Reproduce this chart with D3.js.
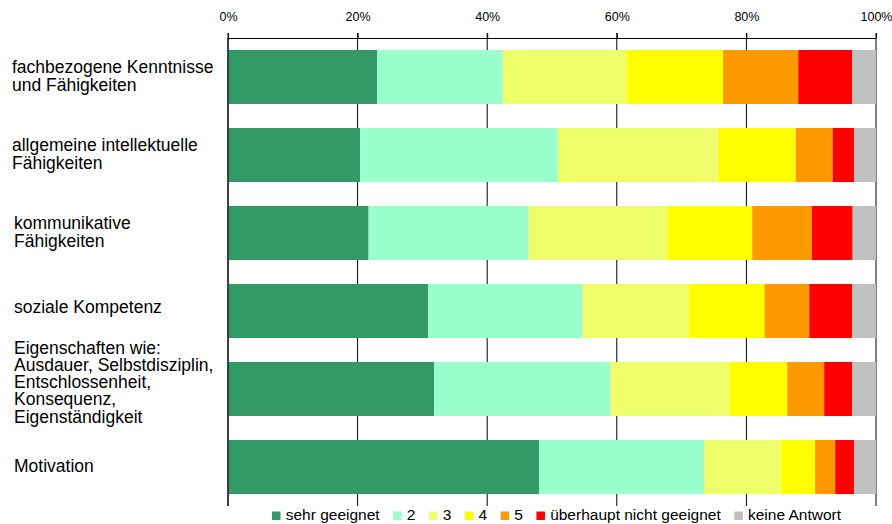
<!DOCTYPE html>
<html>
<head>
<meta charset="utf-8">
<script src="https://cdn.jsdelivr.net/npm/d3@7"></script>
<style>
  html, body { margin: 0; padding: 0; background: #fff; }
  svg { display: block; font-family: "Liberation Sans", Arial, sans-serif; }
</style>
</head>
<body>
<svg id="chart" width="892" height="524"></svg>
<script>
// ---- data ----
const categories = [
  "fachbezogene Kenntnisse\nund Fähigkeiten",
  "allgemeine intellektuelle\nFähigkeiten",
  "kommunikative\nFähigkeiten",
  "soziale Kompetenz",
  "Eigenschaften wie:\nAusdauer, Selbstdisziplin,\nEntschlossenheit,\nKonsequenz,\nEigenständigkeit",
  "Motivation"
];
const seriesNames = ["sehr geeignet", "2", "3", "4", "5", "überhaupt nicht geeignet", "keine Antwort"];
const sehrGeeignet   = [23.0, 20.4, 21.7, 30.9, 31.8, 48.0];
const note2          = [19.4, 30.5, 24.7, 23.8, 27.2, 25.5];
const note3          = [19.1, 24.8, 21.4, 16.4, 18.4, 11.8];
const note4          = [14.9, 11.9, 13.1, 11.7,  8.9,  5.3];
const note5          = [11.6,  5.7,  9.2,  6.9,  5.7,  3.1];
const nichtGeeignet  = [ 8.3,  3.3,  6.3,  6.6,  4.3,  2.9];
const keineAntwort   = [ 3.7,  3.4,  3.6,  3.7,  3.7,  3.4];
const tickValues = [0, 20, 40, 60, 80, 100];

const seriesValues = [sehrGeeignet, note2, note3, note4, note5, nichtGeeignet, keineAntwort];
const colors = ["#339966", "#99FFCC", "#EEFD6A", "#FFFF00", "#FF9900", "#FF0000", "#C0C0C0"];

(function () {
// table for d3.stack
const table = categories.map((c, i) => {
  const row = { cat: c };
  seriesNames.forEach((s, j) => row[s] = seriesValues[j][i]);
  return row;
});

const svg = d3.select("#chart");
const mLeft = 228, mRight = 876, mTop = 38, mBottom = 506;

const x = d3.scaleLinear().domain([0, 100]).range([mLeft, mRight]);
const y = d3.scaleBand().domain(categories).range([mTop, mBottom])
  .paddingInner(0.3077).paddingOuter(0.3077 / 2);

// gridlines (behind bars)
svg.append("g").selectAll("line").data(tickValues).join("line")
  .attr("x1", d => x(d)).attr("x2", d => x(d))
  .attr("y1", mTop - 5).attr("y2", mBottom)
  .attr("stroke", "#000").attr("stroke-width", 1);

// bars
const stacked = d3.stack().keys(seriesNames)(table);
svg.append("g").selectAll("g").data(stacked).join("g")
  .attr("fill", (d, i) => colors[i])
  .selectAll("rect").data(d => d).join("rect")
  .attr("x", d => x(d[0]))
  .attr("width", d => x(d[1]) - x(d[0]))
  .attr("y", d => y(d.data.cat))
  .attr("height", y.bandwidth());

// top axis
const xAxis = d3.axisTop(x).tickValues(tickValues).tickFormat(d => d + "%").tickSize(5).tickSizeOuter(0);
const ax = svg.append("g").attr("transform", `translate(0,${mTop})`).call(xAxis);
ax.select(".domain").attr("stroke", "#000");
ax.selectAll(".tick line").attr("stroke", "#000");
ax.selectAll(".tick text")
  .attr("font-size", "12.5px").attr("fill", "#000")
  .attr("font-family", "'Liberation Sans', Arial, sans-serif")
  .attr("y", -17).attr("dy", 0);

// left axis line
svg.append("line").attr("x1", mLeft).attr("x2", mLeft).attr("y1", mTop).attr("y2", mBottom)
  .attr("stroke", "#000").attr("stroke-width", 1);

// category labels
const lh = 17.25;
const labels = svg.append("g");
categories.forEach((c, i) => {
  const lines = c.split("\n");
  const cy = y(c) + y.bandwidth() / 2;
  let b0 = cy - (lines.length - 1) * lh / 2 + 5;
  if (lines.length > 3) b0 -= 6;
  if (lines.length === 1 && i === 3) b0 -= 3;
  const lx0 = i < 2 ? 12 : 14;
  const t = labels.append("text")
    .attr("x", lx0)
    .attr("font-size", "17.5px").attr("fill", "#000");
  lines.forEach((ln, k) => {
    t.append("tspan").attr("x", lx0).attr("y", b0 + k * lh).text(ln);
  });
});

// legend
const legend = svg.append("g");
let lx = 272;
seriesNames.forEach((s, i) => {
  legend.append("rect").attr("x", lx).attr("y", 511.5).attr("width", 8.5).attr("height", 8.5)
    .attr("fill", colors[i]);
  const t = legend.append("text").attr("x", lx + 13.7).attr("y", 519.5)
    .attr("font-size", "15.5px").attr("fill", "#000").text(s);
  lx = lx + 13.7 + t.node().getComputedTextLength() + 13.5;
});
})();
</script>
</body>
</html>
